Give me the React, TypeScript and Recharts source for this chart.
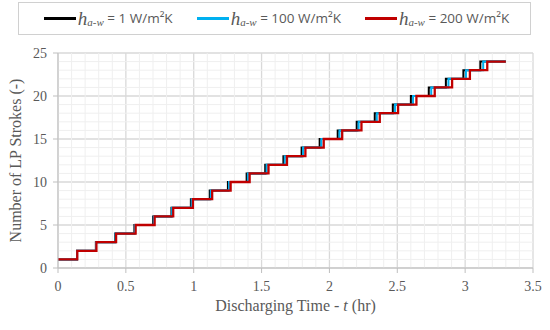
import { LineChart, Line, XAxis, YAxis, CartesianGrid, ReferenceLine, Legend, Label } from "recharts";

// strokes count reached after each step (starts at 1)
const STROKES = [1, 2, 3, 4, 5, 6, 7, 8, 9, 10, 11, 12, 13, 14, 15, 16, 17, 18, 19, 20, 21, 22, 23, 24, 24];

// time (hr) of each point
const T_H1 = [0, 0.140, 0.279, 0.422, 0.563, 0.701, 0.836, 0.979, 1.118, 1.252, 1.390, 1.527, 1.661, 1.795, 1.928, 2.061, 2.201, 2.334, 2.467, 2.600, 2.732, 2.858, 2.987, 3.112, 3.30];
const T_H100 = [0, 0.141, 0.280, 0.424, 0.567, 0.706, 0.841, 0.985, 1.126, 1.260, 1.399, 1.537, 1.671, 1.806, 1.940, 2.074, 2.215, 2.349, 2.483, 2.616, 2.750, 2.877, 3.006, 3.133, 3.30];
const T_H200 = [0, 0.142, 0.283, 0.428, 0.572, 0.712, 0.849, 0.994, 1.136, 1.272, 1.412, 1.551, 1.687, 1.823, 1.958, 2.094, 2.236, 2.371, 2.506, 2.641, 2.776, 2.904, 3.035, 3.163, 3.30];

const X_TICKS = [0, 0.5, 1, 1.5, 2, 2.5, 3, 3.5];
const Y_TICKS = [0, 5, 10, 15, 20, 25];
const X_MINOR = [0.1, 0.2, 0.3, 0.4, 0.6, 0.7, 0.8, 0.9, 1.1, 1.2, 1.3, 1.4, 1.6, 1.7, 1.8, 1.9, 2.1, 2.2, 2.3, 2.4, 2.6, 2.7, 2.8, 2.9, 3.1, 3.2, 3.3, 3.4];
const Y_MINOR = [1, 2, 3, 4, 6, 7, 8, 9, 11, 12, 13, 14, 16, 17, 18, 19, 21, 22, 23, 24];

const SERIES = [
  { key: "h1", value: "1", times: T_H1, color: "#000000", width: 2 },
  { key: "h100", value: "100", times: T_H100, color: "#00b0f0", width: 2 },
  { key: "h200", value: "200", times: T_H200, color: "#c00000", width: 2.3 },
];

const SERIF = "'Liberation Serif', 'DejaVu Serif', serif";
const SANS = "'Open Sans', Lato, sans-serif";
const GREY = "#595959";

const toData = (times: number[]) => times.map((t, i) => ({ t, n: STROKES[i] }));

// legend box with italic h_{a-w}
const LegendBox = () => (
  <div
    style={{
      position: "relative",
      width: 513,
      height: 33,
      border: "1px solid #d0d0d0",
      boxSizing: "border-box",
      display: "flex",
      alignItems: "center",
      justifyContent: "center",
      gap: 24,
      paddingLeft: 4,
      background: "#fff",
    }}
  >
    {SERIES.map((s) => (
      <div key={s.key} style={{ display: "flex", alignItems: "center", color: GREY, lineHeight: 1 }}>
        <div style={{ width: 32, height: 2.2, background: s.color, marginRight: 2 }} />
        <span style={{ fontFamily: SERIF, fontStyle: "italic", fontSize: 19 }}>h</span>
        <span style={{ fontFamily: SERIF, fontStyle: "italic", fontSize: 11, position: "relative", top: 4 }}>a-w</span>
        <span style={{ fontFamily: SANS, fontSize: 13.5, whiteSpace: "pre" }}>{` = ${s.value} W/m²K`}</span>
      </div>
    ))}
  </div>
);

export default function App() {
  return (
    <div style={{ position: "absolute", left: 0, top: 0, background: "#fff" }}>
      <LineChart width={550} height={330} margin={{ top: 20, right: 17, bottom: 32, left: 0 }}>
        {X_MINOR.map((x) => (
          <ReferenceLine key={"vx" + x} x={x} stroke="#efefef" strokeWidth={1} />
        ))}
        {Y_MINOR.map((y) => (
          <ReferenceLine key={"hy" + y} y={y} stroke="#efefef" strokeWidth={1} />
        ))}
        <CartesianGrid stroke="#d9d9d9" strokeWidth={1.3} />
        <XAxis
          type="number"
          dataKey="t"
          domain={[0, 3.5]}
          ticks={X_TICKS}
          allowDuplicatedCategory={false}
          height={30}
          stroke="#bfbfbf"
          tickSize={5}
          tickMargin={8}
          tick={{ fill: GREY, fontFamily: SERIF, fontSize: 14 }}
        >
          <Label
            content={({ viewBox }: any) => (
              <text
                x={viewBox.x + viewBox.width / 2}
                y={viewBox.y + 43}
                textAnchor="middle"
                fill={GREY}
                style={{ fontFamily: SERIF, fontSize: 16 }}
              >
                Discharging Time - <tspan fontStyle="italic">t</tspan> (hr)
              </text>
            )}
          />
        </XAxis>
        <YAxis
          type="number"
          domain={[0, 25]}
          ticks={Y_TICKS}
          width={58}
          stroke="#bfbfbf"
          tickSize={5}
          tickMargin={6}
          tick={{ fill: GREY, fontFamily: SERIF, fontSize: 14 }}
        >
          <Label
            content={({ viewBox }: any) => {
              const cx = 15;
              const cy = viewBox.y + viewBox.height / 2;
              return (
                <text
                  x={cx}
                  y={cy}
                  transform={`rotate(-90 ${cx} ${cy})`}
                  textAnchor="middle"
                  dominantBaseline="central"
                  fill={GREY}
                  style={{ fontFamily: SERIF, fontSize: 16 }}
                >
                  Number of LP Strokes (-)
                </text>
              );
            }}
          />
        </YAxis>
        <Legend
          verticalAlign="top"
          height={33}
          content={() => <LegendBox />}
          wrapperStyle={{ left: 18, top: 2, width: 513 }}
        />
        {SERIES.map((s) => (
          <Line
            key={s.key}
            data={toData(s.times)}
            dataKey="n"
            type="stepAfter"
            stroke={s.color}
            strokeWidth={s.width}
            dot={false}
            isAnimationActive={false}
          />
        ))}
      </LineChart>
    </div>
  );
}
